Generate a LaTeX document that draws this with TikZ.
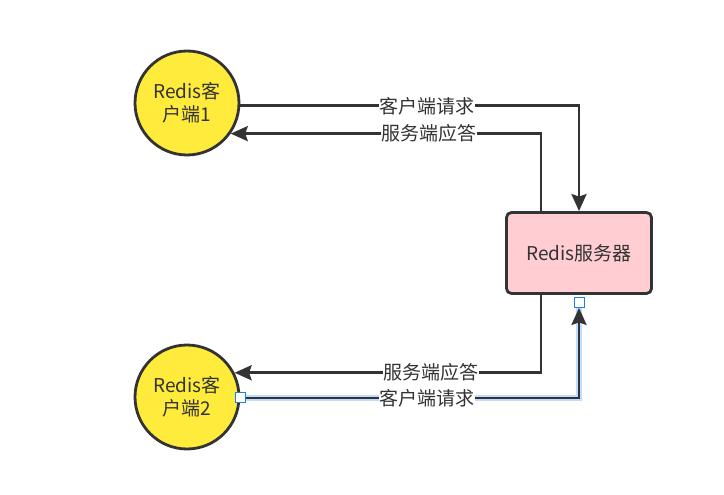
\documentclass[tikz,border=0pt]{standalone}
\usepackage{fontspec}
\newfontfamily\cjk{Noto Sans CJK SC}
\usetikzlibrary{arrows.meta}
\definecolor{ink}{HTML}{333333}
\definecolor{clientyellow}{HTML}{FFEB3B}
\definecolor{serverpink}{HTML}{FFCDD2}
\definecolor{handleblue}{HTML}{1A7FE8}
\definecolor{glowblue}{HTML}{BFDDFF}

\begin{document}
\begin{tikzpicture}[x=1pt, y=-1pt,
  font=\cjk\fontsize{19}{23}\selectfont, text=ink,
  client/.style={circle, draw=ink, line width=2.8pt, fill=clientyellow,
    minimum size=104pt, inner sep=0pt, align=center},
  server/.style={rectangle, rounded corners=5pt, draw=ink, line width=2.8pt,
    fill=serverpink, minimum width=145pt, minimum height=81pt},
  flow/.style={draw=ink, line width=2.8pt,
    -{Stealth[length=17pt, width=15pt, inset=2.5pt]}},
  lbl/.style={fill=white, inner sep=0.5pt},
  handle/.style={rectangle, draw=handleblue, fill=white, line width=1pt,
    minimum size=10pt, inner sep=0pt}]
  \useasboundingbox (0,0) rectangle (724,495);

  \node[client] (c1) at (187,103) {Redis客\\户端1};
  \node[client] (c2) at (187,397) {Redis客\\户端2};
  \node[server] (s) at (579,253) {Redis服务器};

  \draw[flow] (c1.-3) -| node[pos=0.276, lbl] {客户端请求} (s.north);
  \draw[flow] ([xshift=-38pt]s.north) |- node[pos=0.68, lbl] {服务端应答} (c1.-35);

  \draw[flow] ([xshift=-38pt]s.south) |- node[pos=0.68, lbl] {服务端应答} (c2.27);
  \coordinate (h2) at ([yshift=-13pt]s.south);
  \draw[glowblue, line width=6pt] (c2.-1) -| (h2);
  \draw[flow] (c2.-1) -| node[pos=0.276, lbl] {客户端请求} (h2);

  \node[handle] (h1) at (c2.-1) {};
  \node[handle] (h3) at ([yshift=-7.5pt]s.south) {};
\end{tikzpicture}
\end{document}
